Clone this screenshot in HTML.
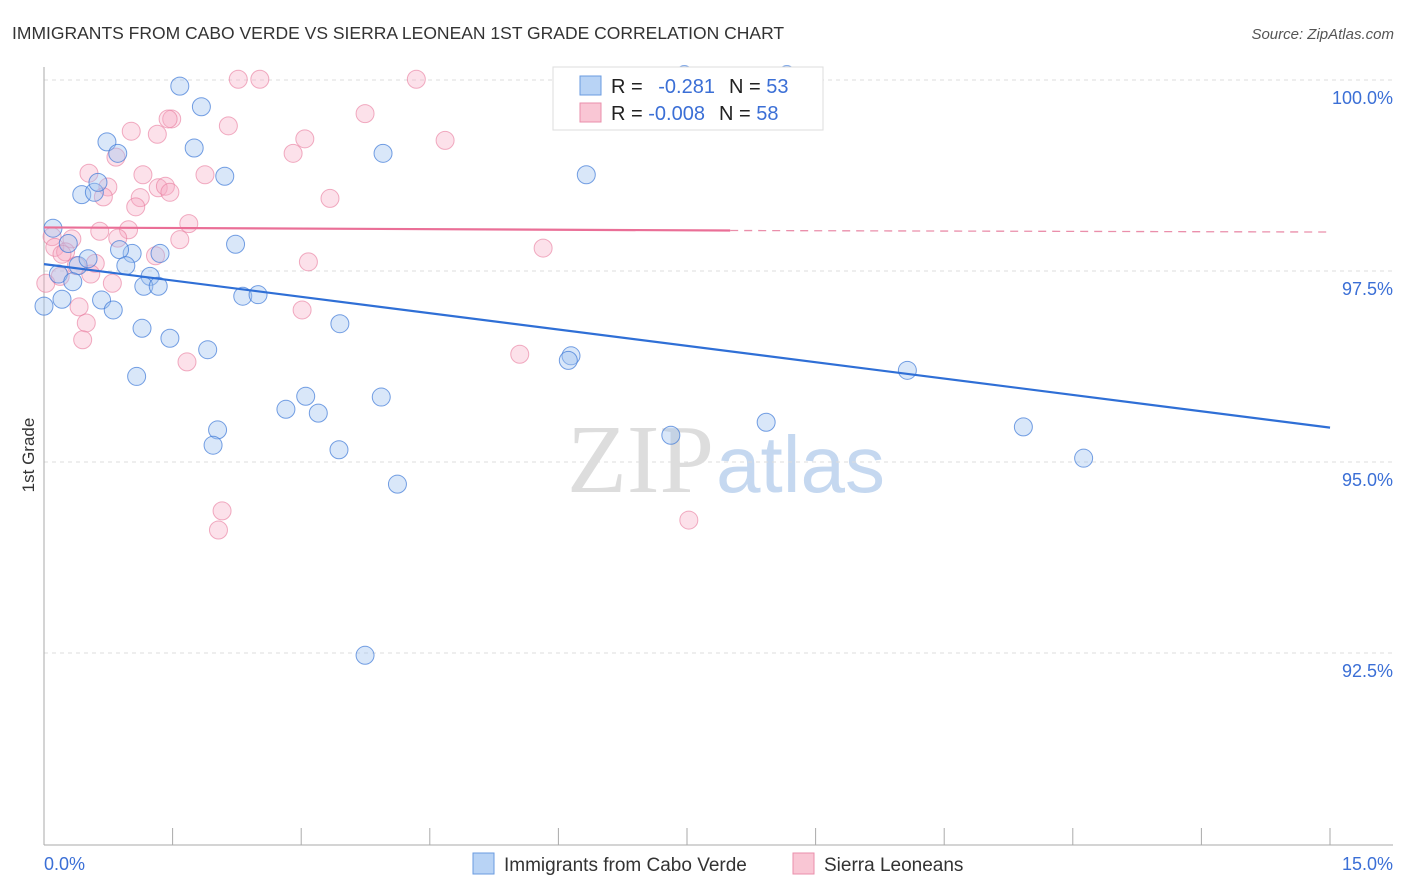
<!DOCTYPE html>
<html><head><meta charset="utf-8"><style>
body{margin:0;background:#fff;font-family:"Liberation Sans",sans-serif;}
svg{display:block}
</style></head><body>
<svg id="chart" width="1406" height="892">
<text x="12" y="39" font-size="17.5" fill="#333">IMMIGRANTS FROM CABO VERDE VS SIERRA LEONEAN 1ST GRADE CORRELATION CHART</text>
<text x="1394" y="39" font-size="15" fill="#555" font-style="italic" text-anchor="end">Source: ZipAtlas.com</text>
<text x="714" y="492" font-size="98" fill="#ddd" text-anchor="end" font-family="Liberation Serif,serif">ZIP</text>
<text x="716" y="492" font-size="80" fill="#c5d8f0">atlas</text>
<g id="grid"></g>
<g id="axes"></g>
<g id="pts"></g>
<g id="lines"></g>
<text transform="translate(34,455) rotate(-90)" font-size="17" fill="#333" text-anchor="middle">1st Grade</text>
<g>
<rect x="553" y="67" width="270" height="63" fill="#fff" stroke="#ddd"/>
<rect x="580" y="76" width="21" height="19" fill="#b8d3f5" stroke="#6a9be0"/>
<rect x="580" y="103" width="21" height="19" fill="#f9c6d4" stroke="#ea8fab"/>
<text x="611" y="93" font-size="20" fill="#222">R = <tspan fill="#3b6fd6" dx="10">-0.281</tspan><tspan dx="14" fill="#222">N = </tspan><tspan fill="#3b6fd6">53</tspan></text>
<text x="611" y="120" font-size="20" fill="#222">R = <tspan fill="#3b6fd6">-0.008</tspan><tspan dx="14" fill="#222">N = </tspan><tspan fill="#3b6fd6">58</tspan></text>
</g>
<g>
<rect x="473" y="853" width="21" height="21" fill="#b8d3f5" stroke="#6a9be0"/>
<text x="504" y="871" font-size="19" fill="#333">Immigrants from Cabo Verde</text>
<rect x="793" y="853" width="21" height="21" fill="#f9c6d4" stroke="#ea8fab"/>
<text x="824" y="871" font-size="19" fill="#333">Sierra Leoneans</text>
</g>
</svg>
<script>
const yTicks=[100,97.5,95,92.5];
const yTickLabels=["100.0%","97.5%","95.0%","92.5%"];
const blueX=[1.51,1.75,0.70,0.82,1.67,2.01,6.03,3.77,0.42,0.56,0.60,0.10,2.13,0.27,0.98,1.29,0.84,0.91,0.38,0.49,0.16,0.32,1.18,1.11,1.27,0.20,0.64,0.77,2.21,2.38,0.00,1.09,1.40,3.29,1.82,1.03,5.86,5.83,9.60,2.69,2.91,3.05,3.75,1.93,1.88,3.28,6.97,8.03,10.89,11.56,3.93,3.57,7.12,8.26];
const blueY=[99.92,99.65,99.19,99.04,99.11,98.74,98.76,99.04,98.50,98.53,98.66,98.06,97.85,97.86,97.73,97.73,97.78,97.57,97.57,97.66,97.46,97.36,97.43,97.30,97.30,97.13,97.12,96.99,97.17,97.19,97.04,96.75,96.62,96.81,96.47,96.12,96.39,96.33,96.20,95.69,95.86,95.64,95.85,95.42,95.22,95.16,95.35,95.52,95.46,95.05,94.71,92.47,100.07,100.07];
const pinkX=[2.16,2.40,4.14,5.76,3.57,1.42,1.38,2.05,0.97,1.26,2.90,4.46,2.77,0.80,0.50,1.10,1.79,0.71,0.66,1.27,1.35,1.40,1.07,1.02,3.18,1.61,0.62,0.94,0.09,0.31,1.51,0.82,0.12,0.24,0.20,1.24,2.94,5.55,0.57,0.36,0.52,0.76,0.02,0.18,0.39,2.87,0.47,0.43,5.29,1.59,1.98,1.94,7.17];
const pinkY=[100.01,100.01,100.01,100.01,99.56,99.49,99.49,99.40,99.33,99.29,99.23,99.21,99.04,98.99,98.78,98.76,98.76,98.60,98.47,98.59,98.61,98.53,98.46,98.34,98.45,98.12,98.02,98.04,97.95,97.92,97.91,97.93,97.81,97.75,97.72,97.70,97.62,97.80,97.60,97.57,97.46,97.34,97.34,97.43,97.03,96.99,96.82,96.60,96.41,96.31,94.36,94.11,94.24];
const blueTrend=[[0,97.59],[14.3,95.45]];
const pinkTrend=[[0,98.07],[7.63,98.03],[14.3,98.01]];
const X0=44,X1=1393,Y100=80,PPU=76.4;
const sx=v=>X0+(X1-X0)*v/15;
const sy=v=>Y100+(100-v)*PPU;
const NS="http://www.w3.org/2000/svg";
function mk(tag,attrs,parent){const e=document.createElementNS(NS,tag);for(const k in attrs)e.setAttribute(k,attrs[k]);parent.appendChild(e);return e;}
const grid=document.getElementById('grid'),axes=document.getElementById('axes'),pts=document.getElementById('pts'),lines=document.getElementById('lines');
yTicks.forEach((t,i)=>{
 const l=mk('line',{x1:X0,x2:X1,y1:sy(t),y2:sy(t),stroke:'#ddd','stroke-dasharray':'4,4'},grid);
 
 
 const tx=mk('text',{x:1393,y:sy(t)+24,'font-size':18,fill:'#3b6fd6','text-anchor':'end'},grid);
 tx.textContent=yTickLabels[i];
 
 
});
const ya=mk('line',{x1:X0,x2:X0,y1:67,y2:845,stroke:'#aaa'},axes);


const xa=mk('line',{x1:X0,x2:X1,y1:845,y2:845,stroke:'#aaa'},axes);


for(let i=0;i<=10;i++){
 const x=X0+i*128.6;
 const t=mk('line',{x1:x,x2:x,y1:828,y2:845,stroke:'#aaa'},axes);
 
 
}
const xl0=mk('text',{x:44,y:870,'font-size':18,fill:'#3b6fd6'},axes);xl0.textContent='0.0%';


const xl1=mk('text',{x:1393,y:870,'font-size':18,fill:'#3b6fd6','text-anchor':'end'},axes);xl1.textContent='15.0%';


pinkX.forEach((v,i)=>{
 const c=mk('circle',{cx:sx(v),cy:sy(pinkY[i]),r:9,fill:'rgba(246,170,195,0.35)',stroke:'rgba(232,120,155,0.6)','stroke-width':1},pts);
 
 
});
blueX.forEach((v,i)=>{
 const c=mk('circle',{cx:sx(v),cy:sy(blueY[i]),r:9,fill:'rgba(160,195,240,0.4)',stroke:'rgba(60,120,215,0.7)','stroke-width':1},pts);
 
 
});
const bl=mk('line',{x1:sx(blueTrend[0][0]),y1:sy(blueTrend[0][1]),x2:sx(blueTrend[1][0]),y2:sy(blueTrend[1][1]),stroke:'#2f6fd6','stroke-width':2.2},lines);


const pl=mk('line',{x1:sx(pinkTrend[0][0]),y1:sy(pinkTrend[0][1]),x2:sx(pinkTrend[1][0]),y2:sy(pinkTrend[1][1]),stroke:'#ea6f97','stroke-width':2.2},lines);


const pd=mk('line',{x1:sx(pinkTrend[1][0]),y1:sy(pinkTrend[1][1]),x2:sx(pinkTrend[2][0]),y2:sy(pinkTrend[2][1]),stroke:'#ea8fab','stroke-width':1.3,'stroke-dasharray':'8,6'},lines);


</script>
</body></html>
